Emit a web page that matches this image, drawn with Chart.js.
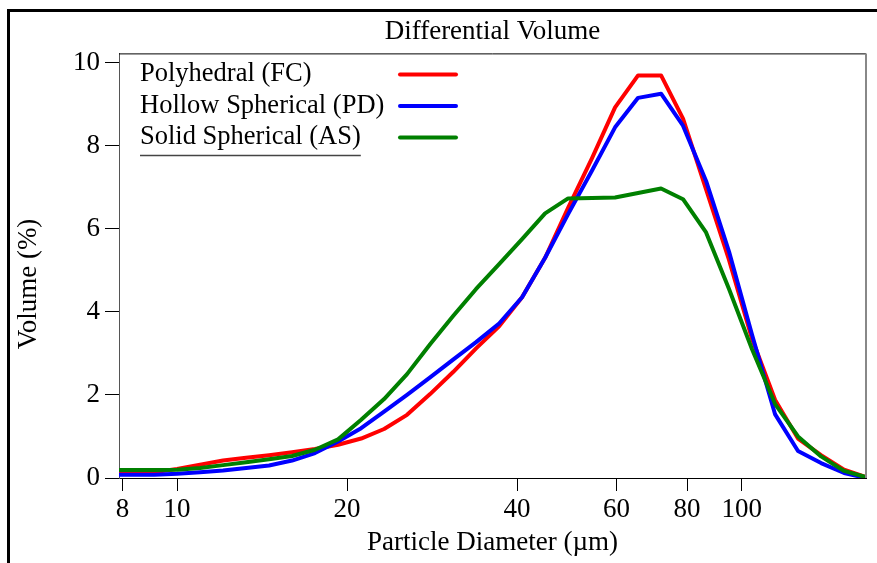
<!DOCTYPE html>
<html><head><meta charset="utf-8">
<script src="https://cdn.jsdelivr.net/npm/chart.js@4"></script>
<style>html,body{margin:0;padding:0;background:#fff;}#wrap{width:877px;height:563px;position:relative;}</style>
</head><body><div id="wrap"><canvas id="c" width="877" height="563"></canvas></div>
<script>
// Particle diameter bins (µm)
const diameters = [7.89, 8.29, 9.11, 10.0, 10.98, 12.06, 13.25, 14.55, 15.98, 17.55, 19.28, 21.18, 23.26, 25.54, 28.06, 30.82, 33.85, 37.18, 40.83, 44.85, 49.26, 54.31, 59.66, 65.53, 71.97, 78.71, 86.47, 94.95, 104.3, 114.6, 125.8, 138.2, 151.8, 166.0];
// Differential volume (%)
const polyhedralFC = [0.13, 0.13, 0.14, 0.22, 0.32, 0.42, 0.49, 0.55, 0.62, 0.70, 0.80, 0.95, 1.18, 1.52, 2.02, 2.55, 3.12, 3.65, 4.35, 5.30, 6.50, 7.70, 8.92, 9.69, 9.69, 8.65, 6.95, 5.25, 3.35, 1.88, 0.95, 0.55, 0.20, 0.02];
const hollowSphericalPD = [0.08, 0.08, 0.08, 0.10, 0.14, 0.18, 0.24, 0.30, 0.42, 0.60, 0.88, 1.20, 1.60, 2.00, 2.42, 2.85, 3.27, 3.72, 4.35, 5.30, 6.35, 7.40, 8.44, 9.15, 9.25, 8.48, 7.15, 5.45, 3.45, 1.53, 0.65, 0.36, 0.12, 0.00];
const solidSphericalAS = [0.19, 0.19, 0.19, 0.20, 0.24, 0.31, 0.38, 0.45, 0.53, 0.68, 0.93, 1.40, 1.90, 2.50, 3.22, 3.90, 4.55, 5.15, 5.75, 6.37, 6.73, 6.74, 6.75, 6.86, 6.97, 6.71, 5.91, 4.55, 3.10, 1.78, 1.00, 0.52, 0.17, 0.02];
const seriesLabels = ['Polyhedral (FC)', 'Hollow Spherical (PD)', 'Solid Spherical (AS)'];
const xTicks = [8, 10, 20, 40, 60, 80, 100];
const yTicks = [0, 2, 4, 6, 8, 10];
const yTitle = 'Volume (%)';

const FAM = '"Liberation Serif", "Times New Roman", serif';
const font = {family: FAM, size: 27, weight: 'normal'};

const toPts = arr => arr.map((v, i) => ({x: diameters[i], y: v}));

const framePlugin = {
  id: 'frame',
  beforeDraw(chart) {
    const ctx = chart.ctx;
    ctx.save();
    ctx.fillStyle = '#fff';
    ctx.fillRect(0, 0, chart.width, chart.height);
    ctx.fillStyle = '#000';
    ctx.fillRect(7, 9, 3, chart.height - 9);
    ctx.fillRect(7, 9, chart.width - 7, 3);
    // y-axis title
    ctx.translate(29, 284);
    ctx.rotate(-Math.PI / 2);
    ctx.font = '27px ' + FAM;
    ctx.textAlign = 'center';
    ctx.textBaseline = 'middle';
    ctx.fillText(yTitle, 0, 0);
    ctx.restore();
  },
  afterDatasetsDraw(chart) {
    const ctx = chart.ctx, a = chart.chartArea;
    ctx.save();
    ctx.strokeStyle = '#000'; ctx.lineWidth = 1;
    ctx.beginPath(); ctx.moveTo(a.left, a.top + 0.5); ctx.lineTo(a.right, a.top + 0.5); ctx.stroke();
    ctx.strokeStyle = '#888'; ctx.lineWidth = 2;
    ctx.beginPath(); ctx.moveTo(a.right, a.top); ctx.lineTo(a.right, a.bottom); ctx.stroke();
    ctx.restore();
  }
};

const legendPlugin = {
  id: 'inlineLegend',
  afterDatasetsDraw(chart) {
    const ctx = chart.ctx, a = chart.chartArea;
    ctx.save();
    ctx.font = '26.5px ' + FAM;
    ctx.textBaseline = 'middle';
    ctx.textAlign = 'left';
    const rowY = [a.top + 21, a.top + 52.5, a.top + 84];
    const tx = a.left + 21;
    const lx0 = a.left + 281, lx1 = a.left + 337;
    seriesLabels.forEach((lab, i) => {
      const ds = chart.data.datasets.find(d => d.label === lab);
      ctx.fillStyle = '#000';
      ctx.fillText(lab, tx, rowY[i]);
      ctx.strokeStyle = ds.borderColor; ctx.lineWidth = 4; ctx.lineCap = 'round';
      ctx.beginPath(); ctx.moveTo(lx0, rowY[i]); ctx.lineTo(lx1, rowY[i]); ctx.stroke();
      if (i === seriesLabels.length - 1) {
        const w = ctx.measureText(lab).width;
        ctx.strokeStyle = '#444'; ctx.lineWidth = 1.5; ctx.lineCap = 'butt';
        ctx.beginPath(); ctx.moveTo(tx, rowY[i] + 18); ctx.lineTo(tx + w, rowY[i] + 18); ctx.stroke();
      }
    });
    ctx.restore();
  }
};

new Chart(document.getElementById('c'), {
  type: 'line',
  data: {
    datasets: [
      {label: seriesLabels[0], data: toPts(polyhedralFC), borderColor: '#ff0000', order: 2},
      {label: seriesLabels[1], data: toPts(hollowSphericalPD), borderColor: '#0000ff', order: 1},
      {label: seriesLabels[2], data: toPts(solidSphericalAS), borderColor: '#008000', order: 0}
    ].map(d => Object.assign(d, {borderWidth: 4, pointRadius: 0, tension: 0, fill: false, borderJoinStyle: 'round'}))
  },
  options: {
    responsive: false,
    animation: false,
    events: [],
    layout: {padding: {left: 0, right: 11, top: 0, bottom: 0}},
    plugins: {
      legend: {display: false},
      tooltip: {enabled: false},
      title: {display: true, text: 'Differential Volume', fullSize: false, color: '#000', font: font, padding: {top: 16, bottom: 5}}
    },
    scales: {
      x: {
        type: 'logarithmic', min: 7.89, max: 166,
        afterFit: s => { s.height = 85; },
        afterBuildTicks: s => { s.ticks = xTicks.map(v => ({value: v})); },
        ticks: {autoSkip: false, maxRotation: 0, minRotation: 0, color: '#000', font: font, padding: 3, callback: v => String(v)},
        grid: {drawOnChartArea: false, drawTicks: true, tickLength: 13, color: '#000', tickColor: '#000'},
        border: {color: '#000', width: 1},
        title: {display: true, text: 'Particle Diameter (µm)', color: '#000', font: font, padding: {top: 0, bottom: 4}}
      },
      y: {
        min: 0, max: 10.22,
        afterFit: s => { s.width = 119; },
        afterBuildTicks: s => { s.ticks = yTicks.map(v => ({value: v})); },
        ticks: {color: '#000', font: font, padding: 5, callback: v => String(v)},
        grid: {drawOnChartArea: false, drawTicks: true, tickLength: 14, color: '#000', tickColor: '#000'},
        border: {color: '#555', width: 1},
        title: {display: false}
      }
    }
  },
  plugins: [framePlugin, legendPlugin]
});
</script></body></html>
